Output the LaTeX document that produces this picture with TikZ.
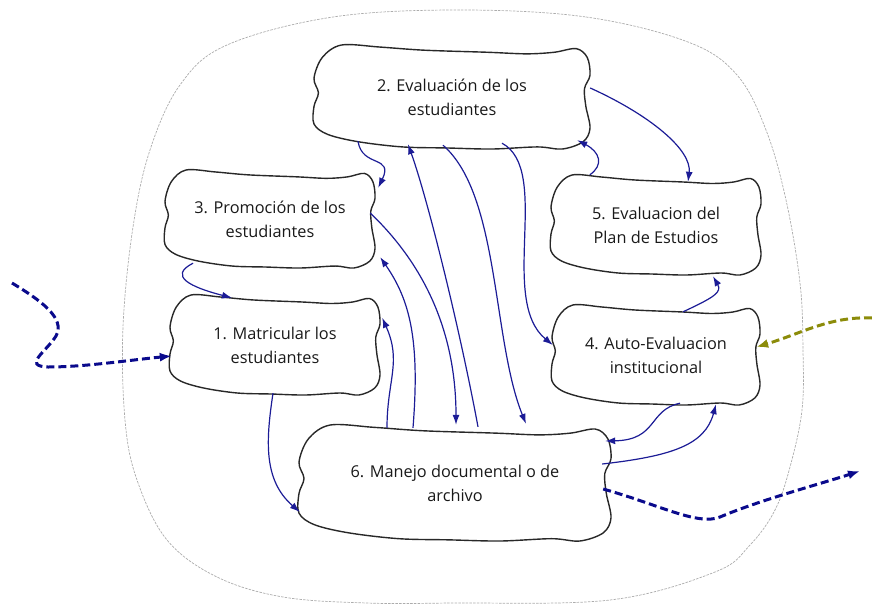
\documentclass[tikz,border=0pt]{standalone}
\usepackage{fontspec}
\setmainfont{Open Sans}
\usetikzlibrary{arrows.meta,calc}
\definecolor{connc}{RGB}{28,28,150}
\definecolor{dblue}{RGB}{10,10,140}
\definecolor{oliv}{RGB}{140,140,10}
\definecolor{outl}{RGB}{40,40,40}
\tikzset{
 outline/.style={draw=outl, line width=1.4pt, line join=round},
 lbl/.style={inner sep=0pt, align=center, font=\fontsize{16.3}{24}\selectfont, text=black!90},
 conn/.style={draw=connc, line width=1.2pt, -{Latex[length=10pt,width=7pt]}},
 dashy/.style={line width=3pt, dash pattern=on 8pt off 4pt, -{Latex[length=12pt,width=9pt]}},
 boundary/.style={draw=gray!65, line width=0.7pt, dash pattern=on 2.5pt off 1.2pt},
}
\newcommand\wobox[6]{%
 \begin{scope}[shift={({#2-#4/2},{#3-#5/2})}, x=#4pt, y=-#5pt]
 \draw[outline] plot[smooth cycle, tension=0.55] coordinates {(0.10,0) (0.24,0.02) (0.40,0.05) (0.63,0.07) (0.77,0.085) (0.87,0.07) (0.95,0.035) (0.99,0.12) (1.0,0.29) (0.98,0.42) (0.985,0.59) (1.0,0.80) (0.975,0.93) (0.90,1.0) (0.81,0.98) (0.645,1.0) (0.48,0.99) (0.32,0.98) (0.16,0.93) (0.05,0.86) (0.0,0.76) (0.0,0.59) (0.016,0.46) (0.0,0.32) (0.03,0.12)};
 \end{scope}
 \node[lbl, minimum width=#4pt, minimum height=#5pt] (#1) at (#2,#3) {#6};}
\begin{document}
\begin{tikzpicture}[x=1pt,y=-1pt]
\useasboundingbox (0,0) rectangle (872,605);
% boundary
\draw[boundary] plot[smooth cycle, tension=0.6] coordinates {(460,10) (586,17) (688,42) (737,75) (766,130) (786,200) (800,283) (803,350) (802,410) (790,467) (775,510) (750,545) (715,572) (610,600) (450,603) (367,603) (283,597) (217,577) (167,540) (137,480) (125,420) (123,327) (133,227) (150,150) (180,85) (227,45) (333,17)};
% boxes
\wobox{n2}{452}{97}{276}{104}{2. Evaluación de los\\estudiantes}
\wobox{n3}{270}{219}{210}{98}{3. Promoción de los\\estudiantes}
\wobox{n1}{275}{345}{210}{100}{1. Matricular los\\estudiantes}
\wobox{n5}{656}{225}{210}{100}{5. Evaluacion del\\Plan de Estudios}
\wobox{n4}{656}{355}{208}{100}{4. Auto-Evaluacion\\institucional}
\wobox{n6}{455}{483}{312}{116}{6. Manejo documental o de\\archivo}
% connectors
\draw[conn] ($(n2.south)+(-94,-8)$) .. controls (362,168) and (394,155) .. ($(n3.north east)+(3,18)$);
\draw[conn] ($(n6.north)+(23,2)$) .. controls (460,330) and (428,200) .. ($(n2.south)+(-44,-5)$);
\draw[conn] ($(n3.east)+(-5,-6)$) .. controls (430,270) and (456,340) .. ($(n6.north)+(1,0)$);
\draw[conn] ($(n2.south)+(-9,-4)$) .. controls (500,195) and (492,340) .. ($(n6.north)+(71,-1)$);
\draw[conn] ($(n2.south)+(50,-6)$) .. controls (552,170) and (498,300) .. ($(n4.west)+(1,-10)$);
\draw[conn] ($(n6.north)+(-42,3)$) .. controls (420,340) and (410,300) .. ($(n3.south east)+(5,-11)$);
\draw[conn] ($(n6.north)+(-68,3)$) .. controls (387,380) and (402,362) .. ($(n1.north east)+(2,23)$);
\draw[conn] ($(n3.south)+(-77,-5)$) .. controls (168,276) and (190,287) .. ($(n1.north)+(-43,3)$);
\draw[conn] ($(n1.south)+(-2,-2)$) .. controls (266,440) and (263,480) .. ($(n6.west)+(1,29)$);
\draw[conn] ($(n2.east)+(0,-9)$) .. controls (650,115) and (692,150) .. ($(n5.north)+(32,7)$);
\draw[conn] ($(n5.north west)+(39,0)$) .. controls (604,165) and (600,152) .. ($(n2.south east)+(-13,-9)$);
\draw[conn] ($(n4.north)+(27,7)$) .. controls (715,297) and (722,292) .. ($(n5.south)+(57,1)$);
\draw[conn] ($(n4.south)+(24,-2)$) .. controls (648,410) and (658,440) .. ($(n6.east)+(-6,-42)$);
\draw[conn] ($(n6.east)+(-9,-19)$) .. controls (672,456) and (705,445) .. ($(n4.south)+(60,-1)$);
% external dashed arrows
\coordinate (lstart) at (12,283);
\coordinate (rstart) at (872,318);
\coordinate (bend) at (860,471);
\draw[dashy, draw=dblue] (lstart) .. controls (40,300) and (66,318) .. (56,336) .. controls (46,352) and (22,366) .. (48,367) .. controls (85,367) and (130,360) .. ($(n1.west)+(2,11)$);
\draw[dashy, draw=oliv] (rstart) .. controls (830,316) and (800,334) .. ($(n4.east)+(-4,-8)$);
\draw[dashy, draw=dblue] ($(n6.east)+(-8,6)$) .. controls (660,505) and (698,526) .. (720,517) .. controls (760,500) and (820,484) .. (bend);
\end{tikzpicture}
\end{document}
